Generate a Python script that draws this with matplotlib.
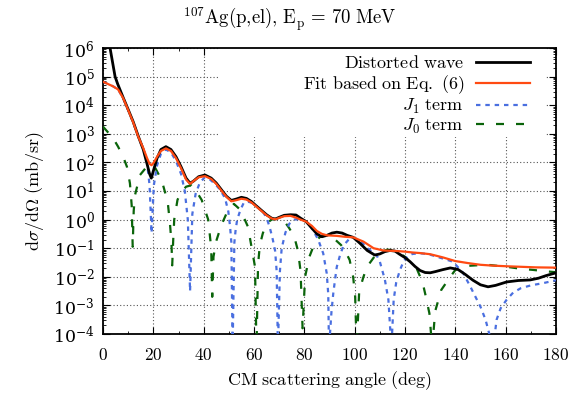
import numpy as np
import matplotlib
matplotlib.use("Agg")
import matplotlib.pyplot as plt
from matplotlib.patches import Rectangle
from matplotlib.ticker import LogLocator, MultipleLocator, NullFormatter

plt.rcParams['mathtext.fontset'] = 'cm'
plt.rcParams['font.family'] = ['DejaVu Serif']

# ---- data (angles in deg, values given as log10 of dσ/dΩ in mb/sr) ----
dw_angle = [0, 1, 2, 2.8, 4, 4.8, 5.8, 6.8, 8, 10, 12, 14, 16, 17.5, 18.5, 19.2, 20, 21.5,
            23, 25, 27, 29, 31, 33, 34.6, 36, 38, 40.5, 43, 45, 47, 49, 51, 53, 55, 57,
            59, 61, 63, 65, 67, 68.5, 70, 72, 74.5, 76.7, 78.5, 80.7, 83, 85, 86.9, 89,
            91, 92.9, 95, 97, 99.4, 102, 105, 108, 110, 112, 114, 116, 118, 120, 122,
            124, 126, 128, 130, 132, 135, 138, 141, 144, 147, 150, 153, 156, 160.4, 165,
            169.7, 173, 176, 180]
dw_log10 = [7.4, 6.9, 6.4, 6.0, 5.4, 5.0, 4.75, 4.53, 4.27, 3.85, 3.42, 2.92, 2.45, 1.95,
            1.6, 1.45, 1.7, 2.15, 2.45, 2.55, 2.45, 2.2, 1.85, 1.45, 1.27, 1.35, 1.5,
            1.56, 1.45, 1.28, 1.05, 0.82, 0.67, 0.72, 0.78, 0.74, 0.63, 0.47, 0.32, 0.17,
            0.05, 0.02, 0.08, 0.15, 0.17, 0.16, 0.05, -0.07, -0.3, -0.5, -0.6, -0.55,
            -0.47, -0.44, -0.47, -0.55, -0.62, -0.82, -1.08, -1.24, -1.2, -1.12, -1.08,
            -1.1, -1.22, -1.33, -1.47, -1.64, -1.78, -1.85, -1.86, -1.82, -1.75, -1.69,
            -1.74, -1.92, -2.12, -2.28, -2.35, -2.3, -2.18, -2.13, -2.11, -2.05, -1.96,
            -1.86]

fit_angle = [0, 2, 4, 6, 8, 10, 12, 14, 16, 17.5, 18.5, 19.3, 20.2, 21.5, 23, 25, 27, 29,
             31, 33, 34.6, 36, 38, 40.5, 43, 45, 47, 49, 51, 53, 55, 57, 59, 61, 63, 65,
             67, 68.5, 70, 72, 74.5, 76.7, 78.5, 80.7, 83, 85, 87, 89, 91, 93, 96, 99.4,
             103.5, 107.5, 111.4, 114, 117, 120, 123, 126, 130, 135, 140, 145, 150, 155,
             160, 166, 172, 180]
fit_log10 = [4.82, 4.74, 4.66, 4.55, 4.25, 3.83, 3.4, 2.9, 2.5, 2.15, 1.95, 1.9, 2.0, 2.2,
             2.4, 2.49, 2.4, 2.15, 1.8, 1.4, 1.25, 1.35, 1.48, 1.52, 1.42, 1.25, 1.02,
             0.8, 0.64, 0.68, 0.73, 0.7, 0.6, 0.45, 0.3, 0.15, 0.04, 0.01, 0.06, 0.12,
             0.13, 0.07, 0.0, -0.07, -0.22, -0.4, -0.5, -0.55, -0.56, -0.57, -0.6, -0.62,
             -0.77, -1.0, -1.08, -1.09, -1.1, -1.12, -1.15, -1.17, -1.21, -1.32, -1.45,
             -1.52, -1.58, -1.61, -1.63, -1.65, -1.67, -1.68]

j1_angle = [0, 2, 4, 6, 8, 10, 12, 14, 16, 17.5, 18.5, 19.3, 20.2, 21.5, 23, 25, 27, 29,
            31, 32.5, 33.7, 34.6, 35.5, 36.8, 38.5, 40.5, 42.5, 44.5, 46.5, 48.5, 49.8,
            50.5, 51, 51.5, 52.2, 52.7, 53.3, 54.6, 56, 58, 60, 62, 63.5, 64.9, 66.2,
            67.5, 68.4, 69, 69.5, 70.3, 71, 72.5, 74, 76, 78, 80, 81.5, 83.4, 85.5, 87.5,
            88.9, 89.5, 89.8, 90.8, 91.5, 92.2, 92.9, 94.2, 95.6, 97.6, 99.5, 101.5, 103,
            104.7, 106.5, 108.7, 110, 112, 113.4, 114.6, 115.5, 116.5, 118, 119.5, 121,
            123, 126, 129, 132, 135, 139, 143, 146, 148, 150, 152, 155, 156.4, 158,
            160.4, 163, 166, 170, 175, 180]
j1_log10 = [4.82, 4.74, 4.66, 4.55, 4.25, 3.83, 3.4, 2.9, 2.48, 2.0, 1.2, -0.47, 1.2, 1.9,
            2.3, 2.45, 2.35, 2.05, 1.6, 1.0, 0.0, -2.5, 0.2, 0.9, 1.3, 1.48, 1.4, 1.25,
            1.05, 0.75, 0.28, -0.25, -0.8, -4.5, -0.8, -0.36, -0.01, 0.34, 0.6, 0.62,
            0.55, 0.4, 0.28, 0.08, -0.25, -0.71, -1.1, -1.8, -4.5, -1.8, -1.0, -0.45,
            -0.15, 0.0, 0.02, -0.03, -0.12, -0.36, -0.7, -1.18, -1.88, -2.6, -4.5, -3.2,
            -2.58, -2.1, -1.65, -1.24, -0.9, -0.7, -0.63, -0.7, -0.82, -0.95, -1.1,
            -1.24, -1.47, -2.1, -2.8, -4.5, -2.8, -2.2, -1.76, -1.45, -1.28, -1.2, -1.18,
            -1.2, -1.28, -1.36, -1.47, -1.85, -2.35, -2.7, -3.05, -3.5, -4.5, -3.5, -3.1,
            -2.8, -2.55, -2.4, -2.3, -2.22, -2.12]

j0_angle = [0, 2, 4, 6, 8, 9.5, 10.7, 11.4, 11.8, 12.2, 12.7, 14.7, 17.4, 19, 20.5, 23.3,
            25.7, 26.6, 27.2, 27.5, 27.9, 28.3, 29.6, 31, 33, 35, 37, 39.2, 41.8, 43,
            43.4, 43.9, 45, 47, 49, 52, 54.6, 57.6, 59, 60.4, 61, 61.6, 62.3, 63.5, 65,
            67, 70, 72, 74, 76, 77.5, 78.5, 79.3, 80.3, 82, 84, 86, 88.5, 91, 94.6, 96,
            98, 99.4, 100.2, 100.8, 101.8, 103.5, 104.9, 108.8, 113, 116, 120, 122.6,
            124.6, 127, 128.3, 129.7, 130.8, 132, 134.4, 138, 140, 144.5, 150, 154, 158,
            162, 166, 171, 175, 180]
j0_log10 = [3.25, 3.05, 2.85, 2.55, 2.2, 1.85, 1.27, 0.5, -0.95, 0.3, 0.85, 1.56, 1.85,
            1.9, 1.85, 1.38, 0.63, -0.13, -0.8, -1.6, -0.71, 0.0, 0.69, 0.95, 1.15, 1.2,
            1.0, 0.69, 0.0, -1.0, -2.7, -1.3, -0.75, -0.2, 0.2, 0.55, 0.34, -0.25, -0.95,
            -1.65, -4.5, -1.6, -0.9, -0.48, -0.13, 0.0, 0.05, -0.05, -0.3, -0.6, -1.1,
            -1.8, -3.8, -2.0, -1.3, -0.85, -0.62, -0.55, -0.6, -0.89, -1.06, -1.41, -2.0,
            -2.7, -4.5, -2.5, -2.0, -1.65, -1.18, -1.05, -1.08, -1.3, -1.53, -1.7, -2.2,
            -2.7, -3.28, -4.5, -3.2, -2.46, -2.0, -1.76, -1.62, -1.59, -1.59, -1.63, -1.67,
            -1.72, -1.76, -1.8, -1.84]

labels = ["$\\mathrm{Distorted\\ wave}$", "$\\mathrm{Fit\\ based\\ on\\ Eq.\\ (6)}$",
          "$J_1\\ \\mathrm{term}$", "$J_0\\ \\mathrm{term}$"]
x_ticks = [0, 20, 40, 60, 80, 100, 120, 140, 160, 180]

# ---- figure ----
fig = plt.figure(figsize=(5.79, 3.94), dpi=100)
ax = fig.add_axes([103/579, 1 - 334/394, 453/579, 286/394])

def val(a):
    return np.power(10.0, np.asarray(a, dtype=float))

l_dw, = ax.plot(dw_angle, val(dw_log10), color='black', lw=2.0, zorder=5, label=labels[0])
l_fit, = ax.plot(fit_angle, val(fit_log10), color='#ff4a12', lw=1.6, zorder=6, label=labels[1])
l_j1, = ax.plot(j1_angle, val(j1_log10), color='#4a6fe0', lw=1.6, zorder=4,
                dashes=(2.0, 2.2), label=labels[2])
l_j0, = ax.plot(j0_angle, val(j0_log10), color='#0a640a', lw=1.6, zorder=3,
                dashes=(3.6, 5.4), label=labels[3])

ax.set_yscale('log')
ax.set_xlim(0, 180)
ax.set_ylim(1e-4, 1e6)
ax.set_xticks(x_ticks)
ax.set_xticklabels(["$\\mathrm{%d}$" % t for t in x_ticks])
ax.xaxis.set_minor_locator(MultipleLocator(10))
ax.yaxis.set_major_locator(LogLocator(base=10, numticks=20))
ax.yaxis.set_minor_locator(LogLocator(base=10, subs=np.arange(2, 10), numticks=20))
ax.yaxis.set_minor_formatter(NullFormatter())
ax.tick_params(which='both', direction='in', top=True, right=True, labelsize=12.5)
ax.tick_params(which='major', length=5, width=0.8)
ax.tick_params(which='minor', length=2.5, width=0.6)
ax.tick_params(axis='x', which='major', pad=9)
ax.tick_params(axis='y', which='major', pad=6)
for s in ax.spines.values():
    s.set_linewidth(1.3)

ax.set_axisbelow(True)
ax.grid(True, which='major', linestyle=(0, (1, 2)), color='#555555', lw=0.8)
# opaque key area (hides grid behind the legend as in the original)
ax.add_patch(Rectangle((0.254, 0.689), 0.722, 0.311, transform=ax.transAxes,
                       facecolor='white', edgecolor='none', zorder=1))

leg = ax.legend(handles=[l_dw, l_fit, l_j1, l_j0], loc='upper right',
                bbox_to_anchor=(0.957, 1.0), frameon=False, markerfirst=False,
                fontsize=13, handlelength=3.0, handletextpad=0.66, labelspacing=0.05,
                borderaxespad=0.05, borderpad=0.3)

ax.set_xlabel("$\\mathrm{CM\\ scattering\\ angle\\ (deg)}$", fontsize=13, labelpad=4)
ax.set_ylabel("$\\mathrm{d}\\sigma/\\mathrm{d}\\Omega\\ \\mathrm{(mb/sr)}$", fontsize=13, labelpad=5)
fig.text(0.5, 1 - 19/394, "$^{107}\\mathrm{Ag(p{,}el){,}\\ E_p\\,=\\,70\\ MeV}$",
         ha='center', va='center', fontsize=13.5)

fig.savefig("out.png", dpi=100)
